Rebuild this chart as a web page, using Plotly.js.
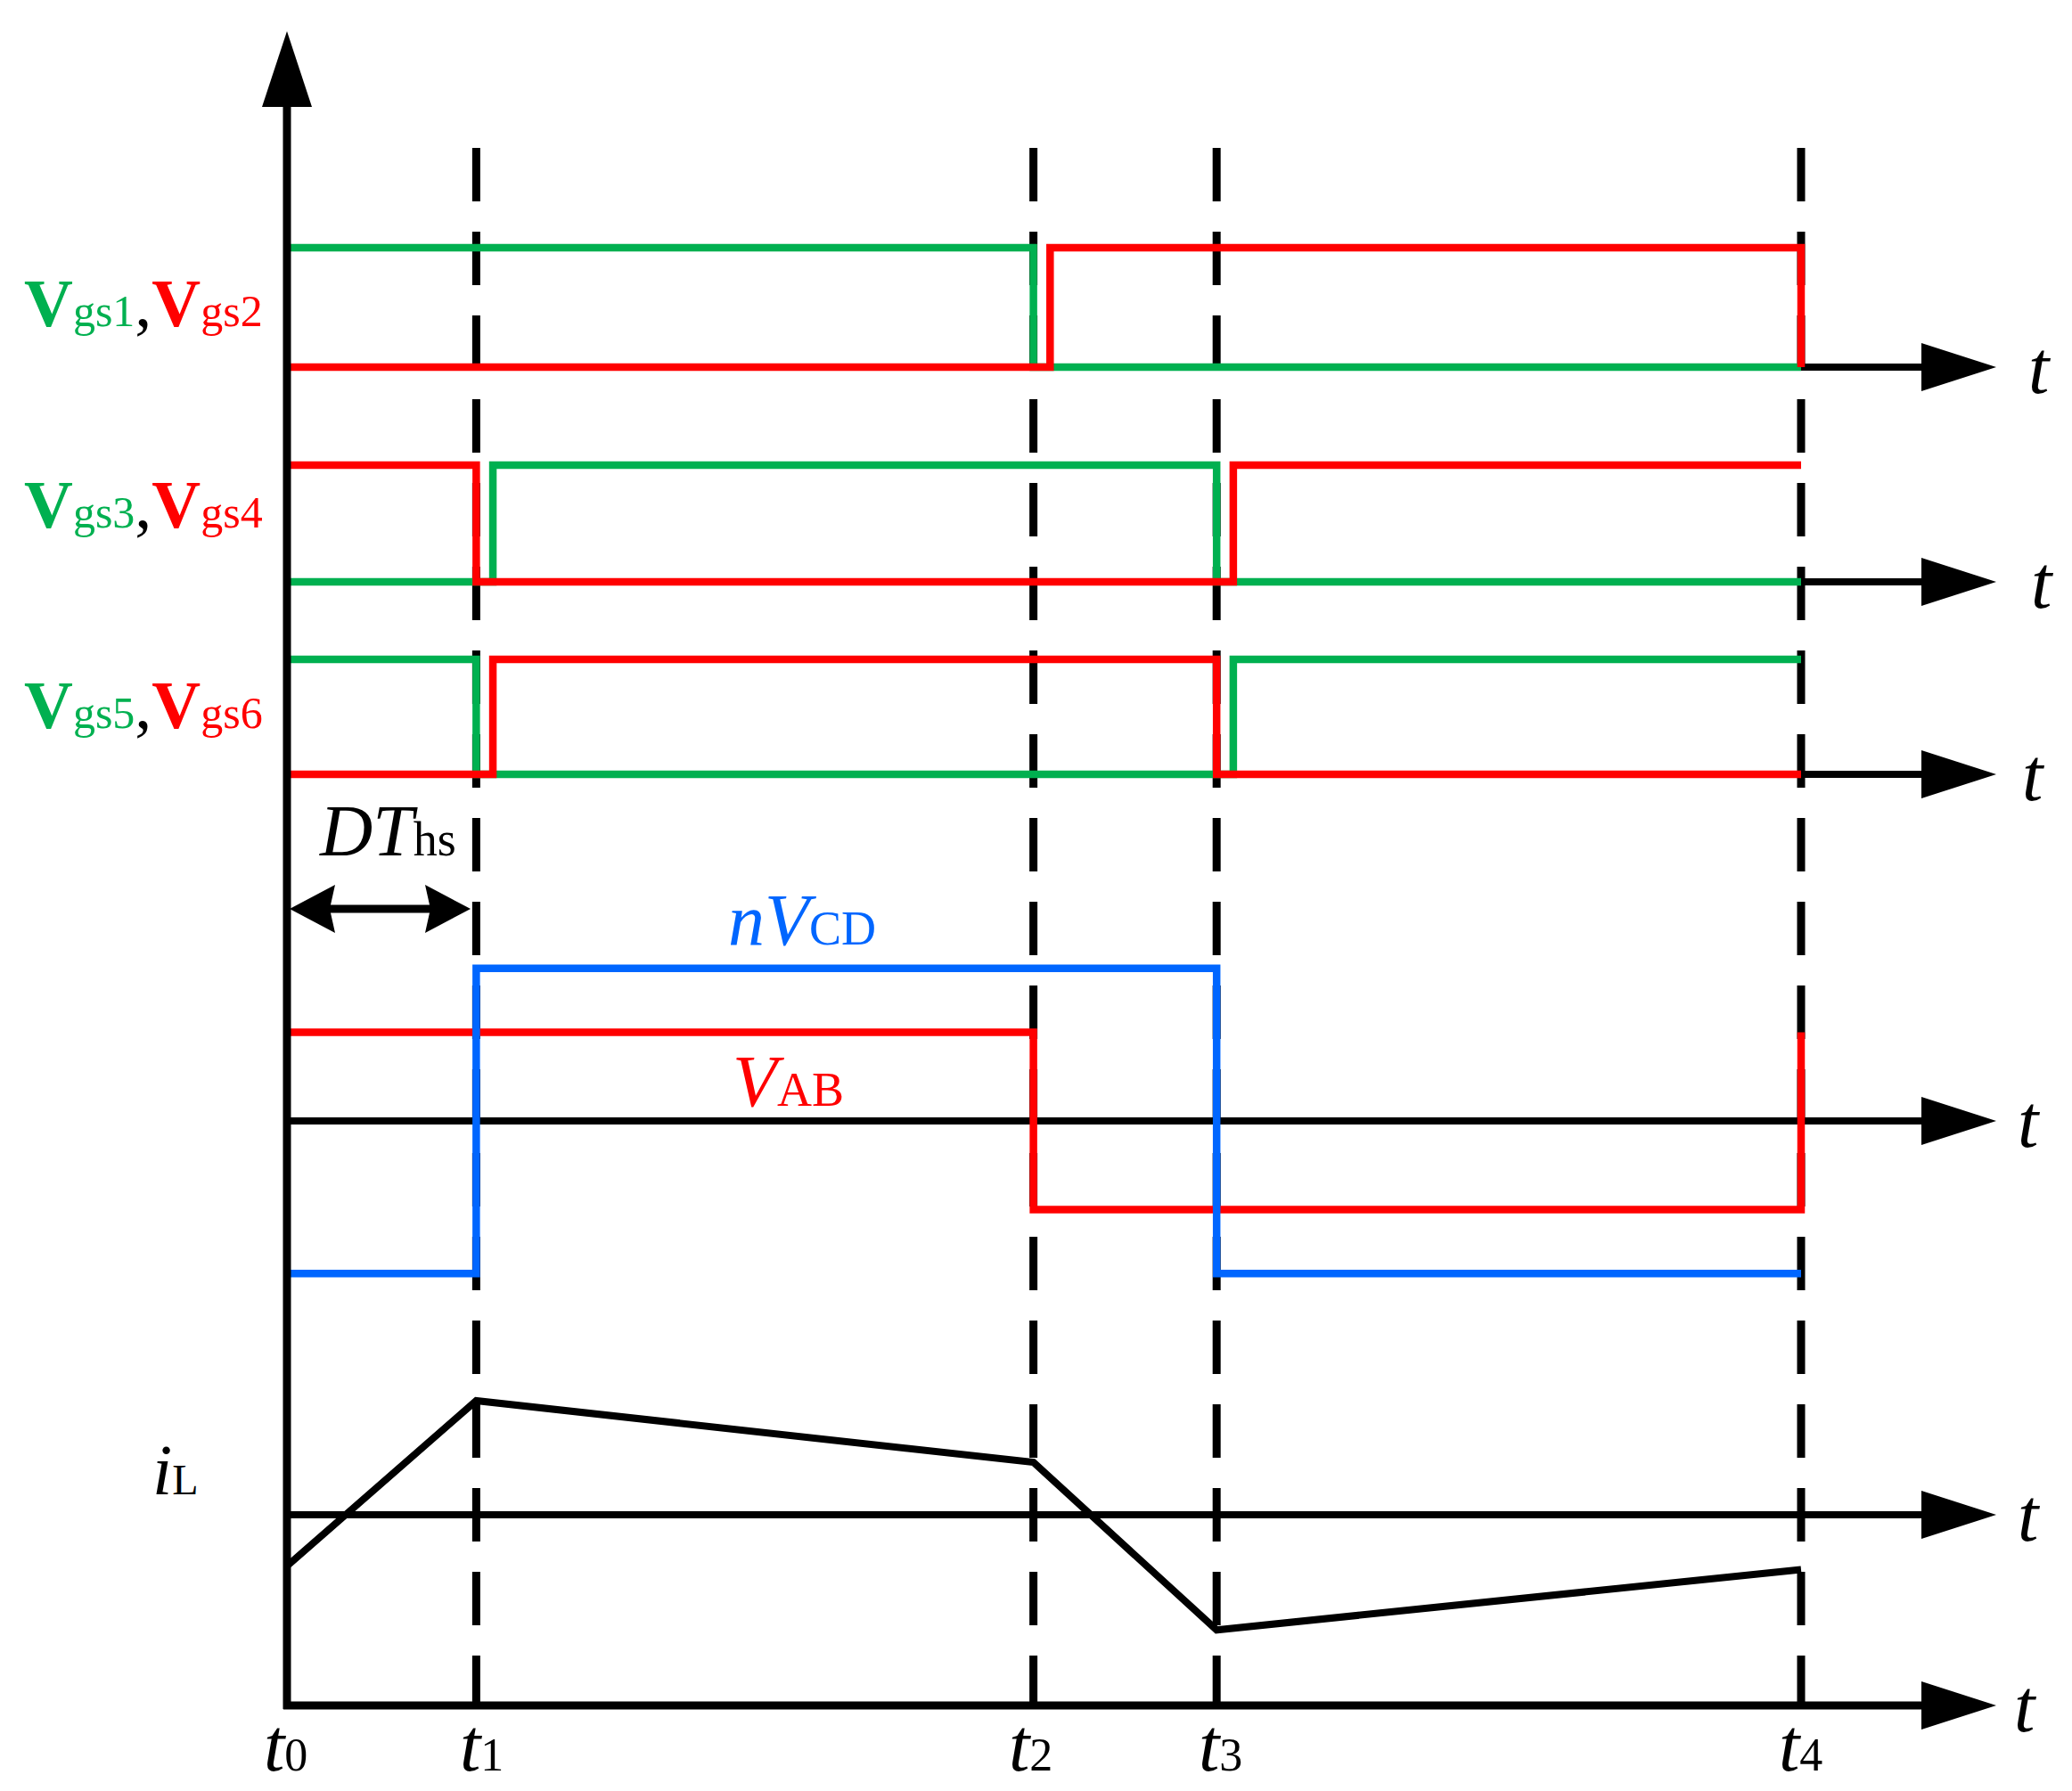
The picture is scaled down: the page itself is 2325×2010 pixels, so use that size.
<!DOCTYPE html>
<html><head><meta charset="utf-8">
<script src="https://cdn.plot.ly/plotly-3.0.1.min.js"></script>
<style>html,body{margin:0;padding:0;background:#fff}</style>
</head><body>
<div id="chart" style="width:2325px;height:2010px"></div>
<script>
// ---------------- data (time in % of one period: t0 = 0, t4 = 100) ----------------
const tickNames = ['0', '1', '2', '3', '4'];
const tickTimes = [0, 12.5, 49.3, 61.4, 100];

const vgs1T = [0, 49.3, 49.3, 100];
const vgs1V = [1, 1, 0, 0];
const vgs2T = [0, 50.4, 50.4, 100, 100];
const vgs2V = [0, 0, 1, 1, 0];

const vgs3T = [0, 13.6, 13.6, 61.4, 61.4, 100];
const vgs3V = [0, 0, 1, 1, 0, 0];
const vgs4T = [0, 12.5, 12.5, 62.5, 62.5, 100];
const vgs4V = [1, 1, 0, 0, 1, 1];

const vgs5T = [0, 12.5, 12.5, 62.5, 62.5, 100];
const vgs5V = [1, 1, 0, 0, 1, 1];
const vgs6T = [0, 13.6, 13.6, 61.4, 61.4, 100];
const vgs6V = [0, 0, 1, 1, 0, 0];

const vabT = [0, 49.3, 49.3, 100, 100];
const vabV = [1, 1, -1, -1, 1];
const nvcdT = [0, 12.5, 12.5, 61.4, 61.4, 100];
const nvcdV = [-1.72, -1.72, 1.72, 1.72, -1.72, -1.72];

const iLT = [0, 12.5, 49.3, 61.4, 100];
const iLV = [-0.45, 1.0, 0.46, -1.01, -0.48];

// ---------------- geometry / style ----------------
const W = 2325, H = 2010;
const X0 = 322, X4 = 2021, XEND = 2158, XTIP = 2240;
const YTOP = 118, YBOT = 1914, YARROWTIP = 35, DASHTOP = 166;
const GREEN = '#00B050', RED = '#FF0000', BLUE = '#0066FF', BLACK = '#000000';
const FONT = 'Liberation Serif';
const LW = 8.5, AXW = 8;

const rows = [
  { id: 'y2', base: 412, unit: 134 },
  { id: 'y3', base: 653, unit: 131 },
  { id: 'y4', base: 869, unit: 129 },
  { id: 'y5', base: 1258, unit: 99.5 },
  { id: 'y6', base: 1700, unit: 128 }
];

const px = x => x / W;
const py = y => 1 - y / H;

function line(t, v, yax, color, w) {
  return { x: t, y: v, xaxis: 'x', yaxis: yax, type: 'scatter', mode: 'lines',
           line: { color: color, width: w || LW, shape: 'linear' },
           hoverinfo: 'skip', showlegend: false };
}

const traces = [
  line(vgs1T, vgs1V, 'y2', GREEN), line(vgs2T, vgs2V, 'y2', RED),
  line(vgs3T, vgs3V, 'y3', GREEN), line(vgs4T, vgs4V, 'y3', RED),
  line(vgs5T, vgs5V, 'y4', GREEN), line(vgs6T, vgs6V, 'y4', RED),
  line(vabT, vabV, 'y5', RED), line(nvcdT, nvcdV, 'y5', BLUE),
  line(iLT, iLV, 'y6', BLACK, 8)
];

const layout = {
  width: W, height: H, margin: { l: 0, r: 0, t: 0, b: 0, pad: 0 },
  paper_bgcolor: '#fff', plot_bgcolor: 'rgba(0,0,0,0)', showlegend: false,
  xaxis: { domain: [px(X0), px(XEND)], range: [0, (XEND - X0) / (X4 - X0) * 100],
           showgrid: false, zeroline: false, showticklabels: false, ticks: '',
           showline: false, anchor: 'y2', fixedrange: true },
  shapes: [], annotations: []
};

rows.forEach(r => {
  const key = 'yaxis' + r.id.slice(1);
  layout[key] = { anchor: 'x', domain: [py(YBOT), py(YTOP)],
    range: [(r.base - YBOT) / r.unit, (r.base - YTOP) / r.unit],
    showgrid: false, showticklabels: false, ticks: '', showline: false,
    zeroline: true, zerolinecolor: BLACK, zerolinewidth: AXW, fixedrange: true };
});

// dashed time markers
tickTimes.forEach((t, i) => {
  if (i === 0) return;
  layout.shapes.push({ type: 'line', layer: 'below', xref: 'x', yref: 'paper',
    x0: t, x1: t, y0: py(DASHTOP), y1: py(YBOT),
    line: { color: BLACK, width: 9, dash: '60px,34px' } });
});

// frame axes (vertical amplitude axis and bottom time axis)
layout.shapes.push({ type: 'line', xref: 'paper', yref: 'paper', layer: 'above',
  x0: px(X0), x1: px(X0), y0: py(YBOT + 4), y1: py(YTOP), line: { color: BLACK, width: 9 } });
layout.shapes.push({ type: 'line', xref: 'paper', yref: 'paper', layer: 'above',
  x0: px(X0 - 4), x1: px(XEND), y0: py(YBOT), y1: py(YBOT), line: { color: BLACK, width: 9 } });

// arrow heads
function tri(pts) {
  return { type: 'path', xref: 'paper', yref: 'paper', layer: 'above',
    path: 'M' + pts.map(p => px(p[0]) + ',' + py(p[1])).join(' L') + ' Z',
    fillcolor: BLACK, line: { width: 0 } };
}
const axisYs = rows.map(r => r.base).concat([YBOT]);
axisYs.forEach(y => layout.shapes.push(tri([[XTIP, y], [XEND - 2, y - 27], [XEND - 2, y + 27]])));
layout.shapes.push(tri([[X0, YARROWTIP], [X0 - 28, YTOP + 2], [X0 + 28, YTOP + 2]]));

// DT_hs double arrow
const DA_Y = 1020, DA_L = 325, DA_R = 528;
layout.shapes.push({ type: 'line', xref: 'paper', yref: 'paper', x0: px(DA_L + 30), x1: px(DA_R - 30),
  y0: py(DA_Y), y1: py(DA_Y), line: { color: BLACK, width: 9 } });
layout.shapes.push(tri([[DA_L, DA_Y], [DA_L + 51, DA_Y - 27], [DA_L + 45, DA_Y], [DA_L + 51, DA_Y + 27]]));
layout.shapes.push(tri([[DA_R, DA_Y], [DA_R - 51, DA_Y - 27], [DA_R - 45, DA_Y], [DA_R - 51, DA_Y + 27]]));

// text
function ann(text, x, y, size, color, xanchor) {
  layout.annotations.push({ text: text, xref: 'paper', yref: 'paper', x: px(x), y: py(y),
    xanchor: xanchor || 'center', yanchor: 'middle', showarrow: false,
    font: { family: FONT, size: size, color: color || BLACK } });
}
const sub = (s, n) => '<span style="font-size:' + n + 'px">' + s + '</span>';
const gate = (a, b) => '<span style="color:' + GREEN + '"><b>V</b>' + sub('gs' + a, 50) + '</span>,' +
                       '<span style="color:' + RED + '"><b>V</b>' + sub('gs' + b, 50) + '</span>';

ann(gate(1, 2), 25, 340, 76, BLACK, 'left');
ann(gate(3, 4), 25, 566, 76, BLACK, 'left');
ann(gate(5, 6), 25, 791, 76, BLACK, 'left');

ann('<i>DT</i>' + sub('hs', 54), 435, 932, 82);
ann('<i>nV</i>' + sub('CD', 54), 900, 1032, 82, BLUE);
ann('<i>V</i>' + sub('AB', 54), 885, 1213, 82, RED);
ann('<i>i</i>' + sub('L', 48), 197, 1650, 80);

const tLabelX = [2289, 2292, 2282, 2277, 2277, 2273];
axisYs.forEach((y, i) => ann('<i>t</i>', tLabelX[i], y, 84));

const tickPx = [320, 540, 1156, 1369, 2020];
tickTimes.forEach((t, i) => ann('<i>t</i>' + sub(tickNames[i], 52), tickPx[i], 1958, 84));

Plotly.newPlot('chart', traces, layout, { staticPlot: true, displayModeBar: false });
</script>
</body></html>
